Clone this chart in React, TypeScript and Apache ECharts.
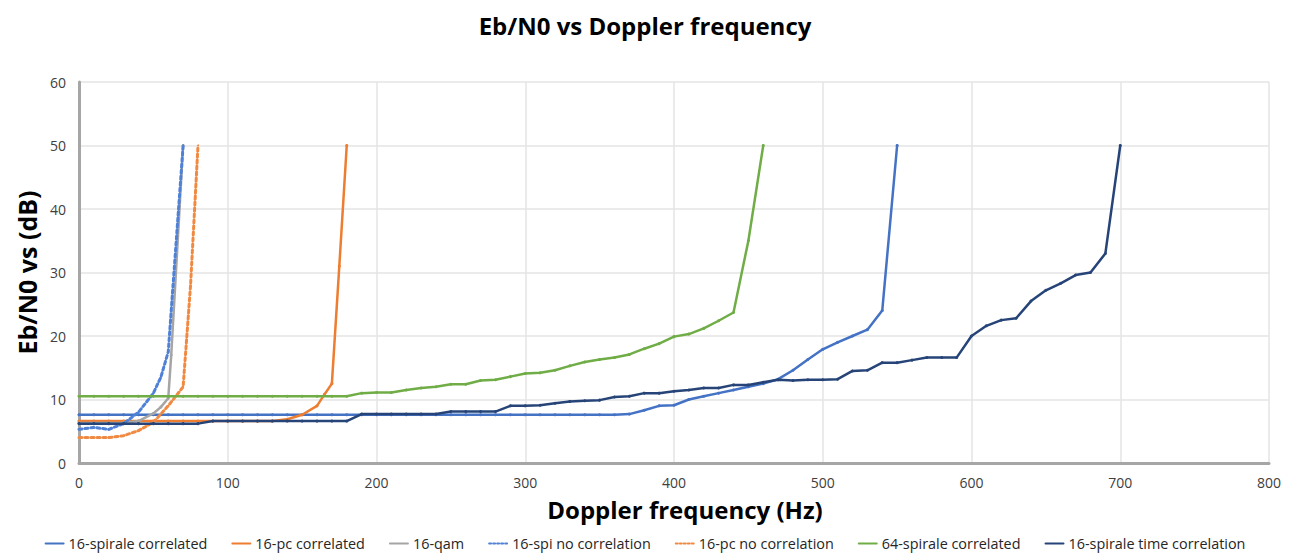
import React, { useEffect, useRef } from "react";
import * as echarts from "echarts";

const xTicks = { min: 0, max: 800, interval: 100 };
const yTicks = { min: 0, max: 60, interval: 10 };

const seriesNames = [
  "16-spirale correlated",
  "16-pc correlated",
  "16-qam",
  "16-spi no correlation",
  "16-pc no correlation",
  "64-spirale correlated",
  "16-spirale time correlation",
];

const spiraleCorrelated: [number, number][] = [
  [0, 7.6], [10, 7.6], [20, 7.6], [30, 7.6], [40, 7.6], [50, 7.6], [60, 7.6], [70, 7.6], [80, 7.6], [90, 7.6],
  [100, 7.6], [110, 7.6], [120, 7.6], [130, 7.6], [140, 7.6], [150, 7.6], [160, 7.6], [170, 7.6], [180, 7.6], [190, 7.6],
  [200, 7.6], [210, 7.6], [220, 7.6], [230, 7.6], [240, 7.6], [250, 7.6], [260, 7.6], [270, 7.6], [280, 7.6], [290, 7.6],
  [300, 7.6], [310, 7.6], [320, 7.6], [330, 7.6], [340, 7.6], [350, 7.6], [360, 7.6], [370, 7.7], [380, 8.3], [390, 9.0],
  [400, 9.1], [410, 10.0], [420, 10.5], [430, 11.0], [440, 11.5], [450, 12.0], [460, 12.5], [470, 13.2], [480, 14.6], [490, 16.3],
  [500, 17.9], [510, 19.0], [520, 20.0], [530, 21.0], [540, 24.0], [550, 50.0],
];

const pcCorrelated: [number, number][] = [
  [0, 6.6], [10, 6.6], [20, 6.6], [30, 6.6], [40, 6.6], [50, 6.6], [60, 6.6], [70, 6.6], [80, 6.6], [90, 6.6],
  [100, 6.6], [110, 6.6], [120, 6.6], [130, 6.6], [140, 6.9], [150, 7.6], [160, 9.0], [165, 10.8], [170, 12.5], [175, 31.0], [180, 50.0],
];

const qam16: [number, number][] = [
  [0, 6.3], [10, 6.3], [20, 6.3], [30, 6.3], [40, 6.6], [50, 7.8], [55, 8.8], [60, 10.2], [62, 17.0], [70, 50.0],
];

const spiNoCorrelation: [number, number][] = [
  [0, 5.3], [10, 5.6], [20, 5.3], [30, 6.2], [40, 8.0], [50, 11.0], [55, 13.5], [60, 17.5], [70, 50.0],
];

const pcNoCorrelation: [number, number][] = [
  [0, 4.0], [10, 4.0], [20, 4.0], [30, 4.3], [40, 5.1], [50, 6.4], [60, 9.0], [70, 12.0], [75, 28.0], [80, 50.0],
];

const spirale64Correlated: [number, number][] = [
  [0, 10.5], [10, 10.5], [20, 10.5], [30, 10.5], [40, 10.5], [50, 10.5], [60, 10.5], [70, 10.5], [80, 10.5], [90, 10.5],
  [100, 10.5], [110, 10.5], [120, 10.5], [130, 10.5], [140, 10.5], [150, 10.5], [160, 10.5], [170, 10.5], [180, 10.5], [190, 11.0],
  [200, 11.1], [210, 11.1], [220, 11.5], [230, 11.8], [240, 12.0], [250, 12.4], [260, 12.4], [270, 13.0], [280, 13.1], [290, 13.6],
  [300, 14.1], [310, 14.2], [320, 14.6], [330, 15.3], [340, 15.9], [350, 16.3], [360, 16.6], [370, 17.1], [380, 18.0], [390, 18.8],
  [400, 19.9], [410, 20.3], [420, 21.2], [430, 22.4], [440, 23.7], [450, 35.0], [460, 50.0],
];

const spiraleTimeCorrelation: [number, number][] = [
  [0, 6.2], [10, 6.2], [20, 6.2], [30, 6.2], [40, 6.2], [50, 6.2], [60, 6.2], [70, 6.2], [80, 6.2], [90, 6.6],
  [100, 6.6], [110, 6.6], [120, 6.6], [130, 6.6], [140, 6.6], [150, 6.6], [160, 6.6], [170, 6.6], [180, 6.6], [190, 7.7],
  [200, 7.7], [210, 7.7], [220, 7.7], [230, 7.7], [240, 7.7], [250, 8.1], [260, 8.1], [270, 8.1], [280, 8.1], [290, 9.0],
  [300, 9.0], [310, 9.1], [320, 9.4], [330, 9.7], [340, 9.8], [350, 9.9], [360, 10.4], [370, 10.5], [380, 11.0], [390, 11.0],
  [400, 11.3], [410, 11.5], [420, 11.8], [430, 11.8], [440, 12.3], [450, 12.3], [460, 12.7], [470, 13.1], [480, 13.0], [490, 13.1],
  [500, 13.1], [510, 13.2], [520, 14.5], [530, 14.6], [540, 15.8], [550, 15.8], [560, 16.2], [570, 16.6], [580, 16.6], [590, 16.6],
  [600, 20.0], [610, 21.6], [620, 22.5], [630, 22.8], [640, 25.5], [650, 27.2], [660, 28.3], [670, 29.6], [680, 30.0], [690, 33.0],
  [700, 50.0],
];

const seriesData = [
  spiraleCorrelated,
  pcCorrelated,
  qam16,
  spiNoCorrelation,
  pcNoCorrelation,
  spirale64Correlated,
  spiraleTimeCorrelation,
];
const seriesColors = ["#4472C4", "#ED7D31", "#A5A5A5", "#4F81D6", "#F08A42", "#70AD47", "#264478"];
const seriesDash = ["solid", "solid", "solid", "dotted", "dotted", "solid", "solid"];

export default function App() {
  const ref = useRef<HTMLDivElement>(null);
  useEffect(() => {
    if (!ref.current) return;
    const chart = echarts.init(ref.current, undefined, { renderer: "svg" });
    const font = "Open Sans";
    chart.setOption({
      animation: false,
      backgroundColor: "#fff",
      title: {
        text: "Eb/N0 vs Doppler frequency",
        left: "center",
        top: 8,
        textStyle: { fontFamily: font, fontSize: 24, fontWeight: "bold", color: "#000" },
      },
      legend: {
        data: seriesNames,
        left: "center",
        top: 531,
        itemWidth: 18,
        itemHeight: 8,
        itemGap: 24,
        itemStyle: { opacity: 0 },
        textStyle: { fontFamily: font, fontSize: 14.4, lineHeight: 15, color: "#262626" },
      },
      grid: { left: 79, right: 21, top: 82, bottom: 91 },
      xAxis: {
        type: "value",
        ...xTicks,
        name: "Doppler frequency (Hz)",
        nameLocation: "middle",
        nameGap: 34,
        nameTextStyle: { fontFamily: font, fontSize: 24, fontWeight: "bold", color: "#000", padding: [0, 0, 0, 22] },
        axisLine: { show: true, lineStyle: { color: "#A6A6A6", width: 3 } },
        axisTick: { show: false },
        axisLabel: { fontFamily: font, fontSize: 14, color: "#404040", margin: 12 },
        splitLine: { show: true, lineStyle: { color: "#E4E4E4", width: 1.5 } },
      },
      yAxis: {
        type: "value",
        ...yTicks,
        name: "Eb/N0 vs (dB)",
        nameLocation: "middle",
        nameRotate: 90,
        nameGap: 40,
        nameTextStyle: { fontFamily: font, fontSize: 25, fontWeight: "bold", color: "#000" },
        axisLine: { show: true, lineStyle: { color: "#A6A6A6", width: 3 } },
        axisTick: { show: false },
        axisLabel: { fontFamily: font, fontSize: 14, color: "#404040", margin: 13 },
        splitLine: { show: true, lineStyle: { color: "#E4E4E4", width: 1.5 } },
      },
      series: seriesNames.map((name, i) => ({
        name,
        type: "line",
        data: seriesData[i],
        symbol: "circle",
        symbolSize: seriesDash[i] === "dotted" ? 2 : 3,
        showSymbol: true,
        lineStyle: {
          color: seriesColors[i],
          width: seriesDash[i] === "dotted" ? 3 : 2.5,
          type: seriesDash[i],
          cap: "round",
        },
        itemStyle: { color: seriesColors[i] },
        z: i + 2,
      })),
    });
    return () => chart.dispose();
  }, []);
  return (
    <div
      ref={ref}
      style={{ position: "fixed", left: 0, top: 0, width: 1290, height: 554, background: "#fff" }}
    />
  );
}
